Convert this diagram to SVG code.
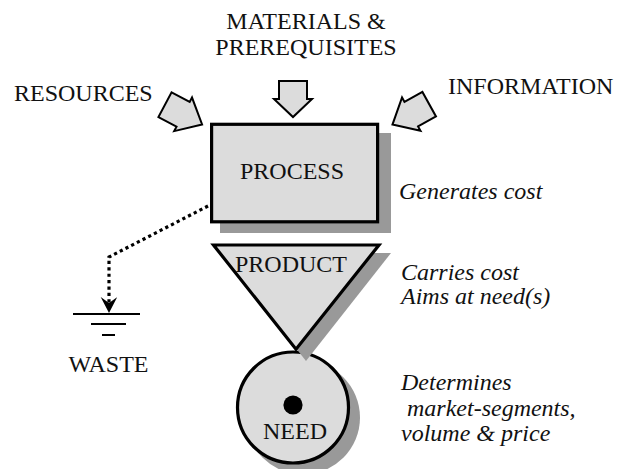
<svg xmlns="http://www.w3.org/2000/svg" width="618" height="469" viewBox="0 0 618 469">
  <style>
    .t { font-family: "Liberation Serif", "Times New Roman", serif; font-size: 24px; fill: #111; }
    .i { font-style: italic; }
    .m { text-anchor: middle; }
    .shape { fill: #dcdcdc; stroke: #000; stroke-width: 3.2; stroke-linejoin: miter; }
    .shadow { fill: #999; stroke: none; }
    .barrow { fill: #dcdcdc; stroke: #000; stroke-width: 2; stroke-linejoin: miter; }
    .gnd { stroke: #000; stroke-width: 2; fill: none; }
  </style>
  <defs>
    <marker id="ah" markerUnits="userSpaceOnUse" markerWidth="20" markerHeight="20" refX="6" refY="8.3" orient="auto">
      <path d="M0,0 L16,8.3 L0,16.6 L6,8.3 Z" fill="#000"/>
    </marker>
    <polygon id="blk" points="0,-14 20.5,-14 20.5,-19 42,0 20.5,19 20.5,14 0,14"/>
  </defs>

  <g id="connectors">
    <polygon class="barrow" points="279,81 307,81 307,99 312,99 293,117 274,99 279,99"/>
    <use href="#blk" class="barrow" transform="translate(165,104.7) rotate(28)"/>
    <use href="#blk" class="barrow" transform="translate(429.2,104.2) rotate(151)"/>
    <path d="M208,206 L109,257 L109,303" fill="none" stroke="#000" stroke-width="3.2" stroke-dasharray="3.2,3.2" marker-end="url(#ah)"/>
  </g>

  <g id="materials">
    <text class="t m" x="306" y="29">MATERIALS &amp;</text>
    <text class="t m" x="306" y="55">PREREQUISITES</text>
  </g>
  <g id="resources">
    <text class="t" x="14" y="101">RESOURCES</text>
  </g>
  <g id="information">
    <text class="t" x="448" y="94">INFORMATION</text>
  </g>

  <g id="process">
    <rect class="shadow" x="220" y="133" width="171" height="100"/>
    <rect class="shape" x="211.6" y="124.3" width="166" height="97.5"/>
    <text class="t m" x="292" y="179">PROCESS</text>
    <text class="t i" x="399" y="199">Generates cost</text>
  </g>

  <g id="need">
    <circle class="shadow" cx="303" cy="417.5" r="57"/>
    <circle class="shape" cx="293" cy="407.5" r="55.5"/>
    <circle cx="293" cy="405" r="9.6" fill="#000"/>
    <text class="t m" x="295" y="439">NEED</text>
    <text class="t i" x="401" y="390">Determines</text>
    <text class="t i" x="407" y="416">market-segments,</text>
    <text class="t i" x="401" y="441">volume &amp; price</text>
  </g>

  <g id="product">
    <polygon class="shadow" points="221,253 391,253 306,361"/>
    <polygon class="shape" points="213.5,245 379,245 296,349.3"/>
    <text class="t m" x="291" y="272">PRODUCT</text>
    <text class="t i" x="401" y="279.5">Carries cost</text>
    <text class="t i" x="401" y="303.5">Aims at need(s)</text>
  </g>

  <g id="waste">
    <line class="gnd" x1="73" y1="314" x2="140" y2="314"/>
    <line class="gnd" x1="91" y1="324" x2="126" y2="324"/>
    <line class="gnd" x1="102" y1="335" x2="115" y2="335"/>
    <text class="t m" x="108.5" y="372">WASTE</text>
  </g>
</svg>
